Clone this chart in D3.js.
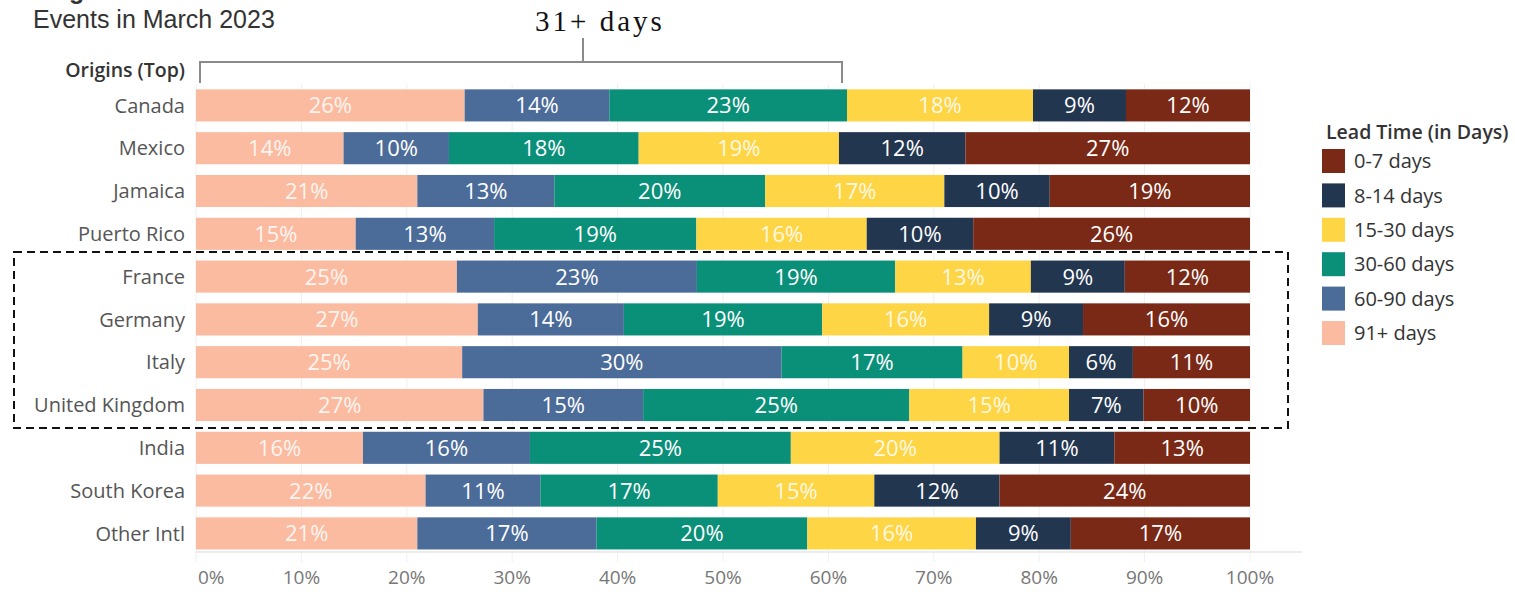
<!DOCTYPE html>
<html>
<head>
<meta charset="utf-8">
<script src="https://cdn.jsdelivr.net/npm/d3@7"></script>
<style>
  body { margin: 0; background: #fff; }
  svg { display: block; }
  .row-label { font-family: 'Open Sans', sans-serif; font-size: 20px; fill: #555; }
  .seg-label { font-family: 'Open Sans', sans-serif; font-size: 22px; fill: #fff; }
  .tick-label { font-family: 'Open Sans', sans-serif; font-size: 19px; fill: #777; }
  .legend-label { font-family: 'Open Sans', sans-serif; font-size: 20px; fill: #333; }
  .legend-title { font-family: 'Open Sans', sans-serif; font-size: 19.5px; font-weight: 600; fill: #333; }
</style>
</head>
<body>
<div id="vis"></div>
<script>
'use strict';

// origins, top to bottom
var origins = ['Canada', 'Mexico', 'Jamaica', 'Puerto Rico', 'France', 'Germany',
    'Italy', 'United Kingdom', 'India', 'South Korea', 'Other Intl'];

// lead time buckets, in stacking order (left to right)
var buckets = ['91+ days', '60-90 days', '30-60 days', '15-30 days', '8-14 days', '0-7 days'];

// shares (%) per bucket, one value per origin
var days91 = [26, 14, 21, 15, 25, 27, 25, 27, 16, 22, 21];
var days60 = [14, 10, 13, 13, 23, 14, 30, 15, 16, 11, 17];
var days30 = [23, 18, 20, 19, 19, 19, 17, 25, 25, 17, 20];
var days15 = [18, 19, 17, 16, 13, 16, 10, 15, 20, 15, 16];
var days8 = [9, 12, 10, 10, 9, 9, 6, 7, 11, 12, 9];
var days0 = [12, 27, 19, 26, 12, 16, 11, 10, 13, 24, 17];

var colors = ['#fbbba0', '#4b6b99', '#0a8f79', '#fdd545', '#233650', '#7a2916'];

// legend lists the buckets from shortest to longest
var legendOrder = ['0-7 days', '8-14 days', '15-30 days', '30-60 days', '60-90 days', '91+ days'];

var ticks = [0, 0.1, 0.2, 0.3, 0.4, 0.5, 0.6, 0.7, 0.8, 0.9, 1];

var W = 1515, H = 592;

var svg = d3.select('#vis').append('svg')
    .attr('width', W)
    .attr('height', H);

// build rows for stacking, normalised so each bar spans 0-100%
var series = [days91, days60, days30, days15, days8, days0];
var rows = origins.map(function (o, i) {
    var row = { origin: o };
    var total = d3.sum(series, function (s) { return s[i]; });
    buckets.forEach(function (b, j) {
        row[b] = series[j][i] / total;
        row['lbl_' + b] = series[j][i];
    });
    return row;
});

var stacked = d3.stack().keys(buckets)(rows);

var x = d3.scaleLinear().domain([0, 1]).range([196, 1250]);
var y = d3.scaleBand().domain(origins).range([84, 84 + 11 * 42.8])
    .paddingInner(0.25).paddingOuter(0.125);
var color = d3.scaleOrdinal().domain(buckets).range(colors);

//gridlines
svg.append('g').selectAll('line')
    .data(ticks)
    .enter().append('line')
    .attr('x1', function (d) { return x(d); })
    .attr('x2', function (d) { return x(d); })
    .attr('y1', 84)
    .attr('y2', 562)
    .attr('stroke', '#efefef')
    .attr('stroke-width', 1);

//axis baseline
svg.append('line')
    .attr('x1', x(0)).attr('x2', 1302)
    .attr('y1', 552).attr('y2', 552)
    .attr('stroke', '#ececec')
    .attr('stroke-width', 2);

//bars
var layer = svg.append('g').selectAll('g')
    .data(stacked)
    .enter().append('g')
    .attr('fill', function (d) { return color(d.key); });

layer.selectAll('rect')
    .data(function (d) { return d; })
    .enter().append('rect')
    .attr('x', function (d) { return x(d[0]); })
    .attr('y', function (d) { return y(d.data.origin); })
    .attr('width', function (d) { return x(d[1]) - x(d[0]); })
    .attr('height', y.bandwidth());

//segment labels
stacked.forEach(function (s) {
    svg.append('g').selectAll('text')
        .data(s)
        .enter().append('text')
        .attr('class', 'seg-label')
        .attr('x', function (d) { return (x(d[0]) + x(d[1])) / 2; })
        .attr('y', function (d) { return y(d.data.origin) + y.bandwidth() / 2; })
        .attr('dy', '0.36em')
        .attr('text-anchor', 'middle')
        .style('opacity', (s.key === '91+ days' || s.key === '15-30 days') ? 0.85 : 1)
        .text(function (d) { return d.data['lbl_' + s.key] + '%'; });
});

//row labels
svg.append('g').selectAll('text')
    .data(origins)
    .enter().append('text')
    .attr('class', 'row-label')
    .attr('x', 185)
    .attr('y', function (d) { return y(d) + y.bandwidth() / 2; })
    .attr('dy', '0.36em')
    .attr('text-anchor', 'end')
    .text(function (d) { return d; });

//tick labels
svg.append('g').selectAll('text')
    .data(ticks)
    .enter().append('text')
    .attr('class', 'tick-label')
    .attr('x', function (d) { return d === 0 ? x(d) + 2 : x(d); })
    .attr('y', 584)
    .attr('text-anchor', function (d) { return d === 0 ? 'start' : 'middle'; })
    .text(d3.format('.0%'));

//header
svg.append('text')
    .text('Origins')
    .attr('x', 33).attr('y', -1)
    .style('font-family', 'Liberation Sans, Arial, sans-serif')
    .style('font-size', '25px')
    .style('font-weight', 'bold')
    .style('fill', '#333');
svg.append('text')
    .text('Events in March 2023')
    .attr('x', 33).attr('y', 28)
    .style('font-family', 'Liberation Sans, Arial, sans-serif')
    .style('font-size', '25px')
    .style('fill', '#333');
svg.append('text')
    .text('Origins (Top)')
    .attr('x', 185).attr('y', 77)
    .attr('text-anchor', 'end')
    .style('font-family', 'Open Sans, sans-serif')
    .style('font-size', '19.5px')
    .style('font-weight', '600')
    .style('fill', '#333');

//bracket over the 91+, 60-90 and 30-60 segments
svg.append('path')
    .attr('d', 'M200,83 V62 H842 V83 M583,62 V38')
    .attr('fill', 'none')
    .attr('stroke', '#8a8a8a')
    .attr('stroke-width', 2);
svg.append('text')
    .text('31+ days')
    .attr('x', 600).attr('y', 31)
    .attr('text-anchor', 'middle')
    .style('font-family', 'Liberation Serif, serif')
    .style('font-size', '29px')
    .style('letter-spacing', '3px')
    .style('fill', '#111');

//dashed box around the European rows
svg.append('rect')
    .attr('x', 14).attr('y', 252)
    .attr('width', 1274).attr('height', 176)
    .attr('fill', 'none')
    .attr('stroke', '#111')
    .attr('stroke-width', 2)
    .attr('stroke-dasharray', '8,5');

//legend
var legend = svg.append('g');
legend.append('text')
    .attr('class', 'legend-title')
    .attr('x', 1326).attr('y', 139)
    .text('Lead Time (in Days)');
var item = legend.selectAll('g.item')
    .data(legendOrder)
    .enter().append('g')
    .attr('class', 'item')
    .attr('transform', function (d, i) { return 'translate(1322,' + (149 + i * 34.4) + ')'; });
item.append('rect')
    .attr('width', 23).attr('height', 24)
    .attr('fill', function (d) { return color(d); });
item.append('text')
    .attr('class', 'legend-label')
    .attr('x', 32).attr('y', 12)
    .attr('dy', '0.36em')
    .text(function (d) { return d; });
</script>
</body>
</html>
